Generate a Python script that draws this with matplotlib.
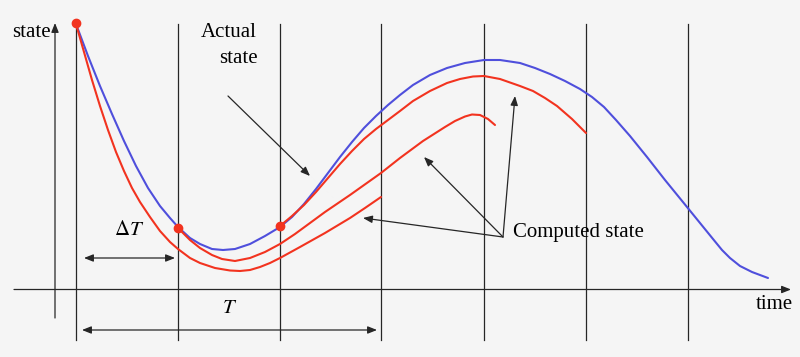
#!/usr/bin/env python
# -*- coding: utf-8 -*-
import matplotlib
matplotlib.use("Agg")
import matplotlib.pyplot as plt
import numpy as np

# Sketch of actual state vs. computed state over time (restart every dT)

# Actual state (blue)
actual_x = [76, 88, 100, 112, 124, 136, 148, 160, 170, 178, 190, 200, 212, 223, 235, 250, 265, 280,
            292, 304, 316, 328, 340, 352, 364, 376, 388, 400, 413, 430, 447, 465, 484, 500, 520, 535,
            550, 565, 580, 592, 604, 616, 630, 647, 665, 687, 700, 713, 722, 730, 740, 752, 768]
actual_y = [24, 56, 86, 114, 141, 166, 188, 206, 218, 227, 238, 244, 249, 250, 249, 244, 236, 227,
            217, 204, 189, 173, 157, 142, 128, 116, 105, 95, 85, 75, 68, 63, 60, 60, 63, 68,
            74, 81, 89, 97, 107, 120, 136, 157, 180, 207, 223, 239, 250, 258, 266, 272, 278]

# Computed state, started at t0
comp1_x = [76, 84, 92, 100, 108, 116, 124, 132, 140, 150, 160, 170, 178, 190, 200, 215, 230, 240,
           250, 260, 270, 280, 300, 325, 350, 365, 381]
comp1_y = [24, 52, 80, 106, 130, 152, 171, 188, 202, 217, 231, 242, 249, 258, 263, 268, 270.5, 271,
           270, 267, 263, 258, 247, 233, 218, 208, 197]

# Computed state, started at t0 + dT
comp2_x = [178, 190, 200, 212, 222, 235, 250, 265, 280, 295, 310, 325, 350, 381, 400, 423, 445, 455,
           465, 472, 480, 488, 495]
comp2_y = [228, 240, 248, 255, 259, 261, 258, 252, 244, 234, 223, 212, 195, 173, 158, 141, 127, 121,
           116.5, 114.5, 115, 119, 125]

# Computed state, started at t0 + 2dT
comp3_x = [280, 292, 304, 316, 328, 340, 352, 364, 376, 388, 400, 413, 430, 447, 460, 473, 484, 500,
           520, 533, 545, 557, 572, 586]
comp3_y = [226, 216, 205, 192, 178, 164, 151, 139, 129, 120, 111, 101, 91, 83, 79, 76.5, 76, 79,
           86, 91, 98, 106, 119, 133]

# restart points
start_x = [76, 178, 280]
start_y = [23, 228, 226]

# time grid (multiples of dT)
grid_x = [76, 178, 280, 381, 484, 586, 688]

RED = "#f2331f"
BLUE = "#4f4fdc"
INK = "#262626"
SERIF = ["Liberation Serif", "DejaVu Serif"]


def arrow(ax, xy_from, xy_to, style="-|>"):
    # plain black arrow with a small filled head
    ax.annotate("", xy=xy_to, xytext=xy_from,
                arrowprops=dict(arrowstyle=style + ",head_length=0.55,head_width=0.22",
                                color=INK, lw=0.9, shrinkA=0, shrinkB=0, mutation_scale=10))


def write_plot(outputfile):
    plt.rcParams["mathtext.fontset"] = "stix"
    fig = plt.figure(figsize=(8, 3.57), dpi=100, facecolor="#f5f5f5")
    ax = fig.add_axes([0, 0, 1, 1])
    ax.set_xlim(0, 800)
    ax.set_ylim(357, 0)
    ax.axis("off")

    # grid lines
    for gx in grid_x:
        ax.plot([gx, gx], [24, 340], color=INK, lw=0.9)

    # axes of the sketch
    arrow(ax, (55, 318), (55, 23))
    arrow(ax, (14, 289.5), (791, 289.5))

    # curves
    for cx, cy, col in [(actual_x, actual_y, BLUE), (comp1_x, comp1_y, RED),
                        (comp2_x, comp2_y, RED), (comp3_x, comp3_y, RED)]:
        ax.plot(cx, cy, color=col, lw=1.5, solid_capstyle="round", solid_joinstyle="round")
    ax.plot(start_x, start_y, linestyle="none", marker="o", color=RED, markersize=6, zorder=5)

    # dT and T spans
    arrow(ax, (84, 258), (175, 258), style="<|-|>")
    arrow(ax, (82, 330), (377, 330), style="<|-|>")

    # pointers
    arrow(ax, (228, 96), (310, 176))
    for tip in [(363, 218), (424, 157), (515, 96)]:
        arrow(ax, (503, 237), tip)

    # labels
    fs = 15
    ax.text(12, 37, "state", fontsize=fs, family=SERIF, va="baseline", color="black")
    ax.text(257, 37, "Actual", fontsize=fs, family=SERIF, va="baseline", ha="right")
    ax.text(258, 63, "state", fontsize=fs, family=SERIF, va="baseline", ha="right")
    ax.text(114, 235, r"$\Delta T$", fontsize=fs, va="baseline")
    ax.text(222, 313, r"$T$", fontsize=fs, va="baseline")
    ax.text(513, 237, "Computed state", fontsize=fs, family=SERIF, va="baseline")
    ax.text(756, 309, "time", fontsize=fs, family=SERIF, va="baseline")

    fig.savefig(outputfile, dpi=100, facecolor=fig.get_facecolor())
    plt.close(fig)


def main():
    write_plot("out.png")


if __name__ == '__main__':
    main()
